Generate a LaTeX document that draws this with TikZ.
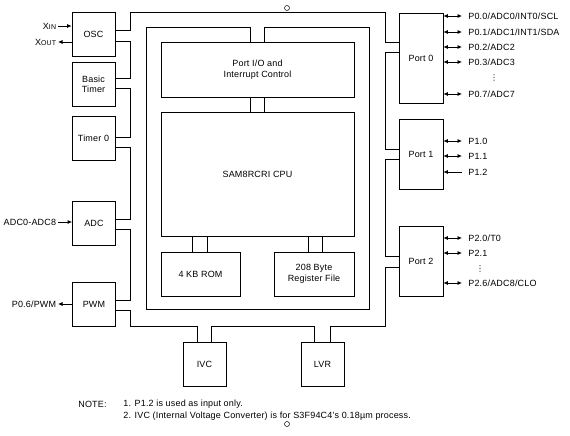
\documentclass[tikz,border=0pt]{standalone}
\usepackage{fontspec}
\setmainfont[LetterSpace=2]{Liberation Sans}
\newfontfamily\symfont{DejaVu Sans}
\usetikzlibrary{arrows.meta}

\begin{document}
\begin{tikzpicture}[x=1pt, y=-1pt, line width=0.75pt, >={Latex[length=4.5pt,width=4pt]},
  every node/.style={font=\fontsize{9}{10.5}\selectfont},
  blk/.style={draw, inner sep=0pt, align=center},
  side/.style={blk, minimum width=43pt, minimum height=44pt},
  port/.style={blk, minimum width=44pt},
  rlbl/.style={anchor=west, inner xsep=6pt, inner ysep=0.5pt},
  llbl/.style={anchor=east, inner xsep=1.5pt, inner ysep=0.5pt},
  dots/.style={inner sep=0pt, font=\symfont\fontsize{8}{8}\selectfont},
  note/.style={anchor=west, inner sep=2pt}]
\useasboundingbox (0,0) rectangle (570,436);

\node[side] (osc) at (93.5,34.5) {OSC};
\node[side] (bt)  at (93.5,84.5) {Basic\\Timer};
\node[side] (t0)  at (93.5,138.5) {Timer 0};
\node[side] (adc) at (94,223) {ADC};
\node[side] (pwm) at (94,304) {PWM};
\node[blk, minimum width=193pt, minimum height=55pt] (pio) at (257.5,69.5) {Port I/O and\\Interrupt Control};
\node[blk, minimum width=193pt, minimum height=124pt] (cpu) at (257.5,174) {SAM8RCRI CPU};
\node[blk, minimum width=79pt, minimum height=44pt] (rom) at (200.5,274) {4 KB ROM};
\node[blk, minimum width=80pt, minimum height=44pt] (rf) at (314,274) {208 Byte\\Register File};
\node[side] (ivc) at (204.5,364) {IVC};
\node[side] (lvr) at (322.5,364) {LVR};
\node[port, minimum height=90pt] (p0) at (421,58) {Port 0};
\node[port, minimum height=70pt] (p1) at (421,154) {Port 1};
\node[port, minimum height=70pt] (p2) at (421,261) {Port 2};

\node[llbl] (xin)  at (58,26) {X{\fontsize{7}{7}\selectfont IN}};
\node[llbl] (xout) at (58,42) {X{\fontsize{7}{7}\selectfont OUT}};
\node[llbl] (ain)  at (58,222) {ADC0-ADC8};
\node[llbl] (pwmo) at (58,304) {P0.6/PWM};
\draw[->] (xin.east) -- (xin.east -| osc.west);
\draw[<-] (xout.east) -- (xout.east -| osc.west);
\draw[->] (ain.east) -- (ain.east -| adc.west);
\draw[<-] (pwmo.east) -- (pwmo.east -| pwm.west);

\node[rlbl] (l00) at (462,16) {P0.0/ADC0/INT0/SCL};
\node[rlbl] (l01) at (462,32) {P0.1/ADC1/INT1/SDA};
\node[rlbl] (l02) at (462,47) {P0.2/ADC2};
\node[rlbl] (l03) at (462,62) {P0.3/ADC3};
\node[dots] (d0) at (494,78) {⋮};
\node[rlbl] (l07) at (462,94) {P0.7/ADC7};
\node[rlbl] (l10) at (462,141) {P1.0};
\node[rlbl] (l11) at (462,156) {P1.1};
\node[rlbl] (l12) at (462,172) {P1.2};
\node[rlbl] (l20) at (462,238) {P2.0/T0};
\node[rlbl] (l21) at (462,253) {P2.1};
\node[dots] (d2) at (480,269) {⋮};
\node[rlbl] (l26) at (462,283) {P2.6/ADC8/CLO};
\foreach \l in {l00,l01,l02,l03,l07}
  \draw[<->] (p0.east |- \l.west) -- (\l.west);
\foreach \l in {l10,l11}
  \draw[<->] (p1.east |- \l.west) -- (\l.west);
\draw[<-] (p1.east |- l12.west) -- (l12.west);
\foreach \l in {l20,l21,l26}
  \draw[<->] (p2.east |- \l.west) -- (\l.west);

\coordinate (otl) at (130,12);
\coordinate (obr) at (385,326);
\coordinate (itl) at (146,27);
\coordinate (ibr) at (369,309);
\foreach \n/\u/\d in {osc/4.5/-6.5, bt/6.5/-3.5, t0/1.5/-8.5, adc/4/-6, pwm/4/-6} {
  \coordinate (\n-u) at ([yshift=\u pt]\n.east);
  \coordinate (\n-d) at ([yshift=\d pt]\n.east);
}
\foreach \n/\u/\d in {p0/16/6, p1/5/-5, p2/5/-6} {
  \coordinate (\n-u) at ([yshift=\u pt]\n.west);
  \coordinate (\n-d) at ([yshift=\d pt]\n.west);
}
\foreach \n/\s in {ivc/7, lvr/8} {
  \coordinate (\n-l) at ([xshift=-\s pt]\n.north);
  \coordinate (\n-r) at ([xshift=\s pt]\n.north);
}
\coordinate (pio-l) at ([xshift=-7.5pt]pio.north);
\coordinate (pio-r) at ([xshift=7pt]pio.north);

\draw (p0-u) -- (p0-u -| obr) |- (otl) |- (osc-u);
\foreach \a/\b in {osc/bt, bt/t0, t0/adc, adc/pwm}
  \draw (\a-d) -- (\a-d -| otl) |- (\b-u);
\draw (pwm-d) -| (otl |- obr) -| (ivc-l);
\draw (ivc-r) |- (lvr-l |- obr) -- (lvr-l);
\draw (lvr-r) |- (obr) |- (p2-d);
\draw (p2-u) -- (p2-u -| obr) |- (p1-d);
\draw (p1-u) -- (p1-u -| obr) |- (p0-d);

\draw (pio-l) |- (itl) |- (ibr) -- (ibr |- itl) -| (pio-r);
\foreach \s in {-7.5,7}
  \draw ([xshift=\s pt]pio.south) -- ([xshift=\s pt]cpu.north);
\foreach \n/\s in {rom/-8, rom/7, rf/-6, rf/8} {
  \coordinate (c) at ([xshift=\s pt]\n.north);
  \draw (c) -- (c |- cpu.south);
}

\draw[line width=0.5pt] (287,8) circle[radius=2.5pt];
\draw[line width=0.5pt] (287,424) circle[radius=2.5pt];

\node[note] (nt) at (76,404) {NOTE:};
\node[note] (n1) at (121,404) {1. P1.2 is used as input only.};
\node[note] (n2) at (121,416) {2. IVC (Internal Voltage Converter) is for S3F94C4's 0.18µm process.};
\end{tikzpicture}
\end{document}
